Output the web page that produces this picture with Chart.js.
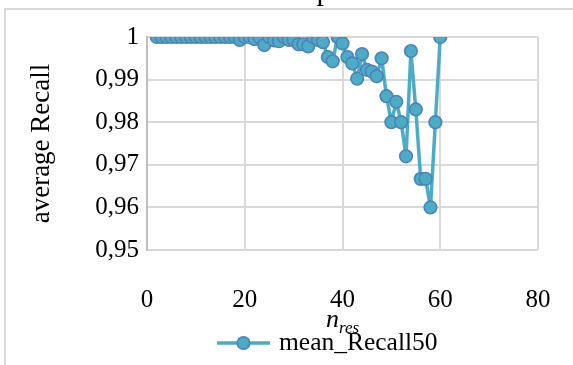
<!DOCTYPE html>
<html>
<head>
<meta charset="utf-8">
<script src="https://cdn.jsdelivr.net/npm/chart.js@4/dist/chart.umd.min.js"></script>
<style>
html,body{margin:0;padding:0;background:#fff;overflow:hidden;}
#wrap{position:relative;width:573px;height:365px;}
</style>
</head>
<body>
<div id="wrap"><canvas id="c" width="573" height="365"></canvas></div>
<script>
// ---- data ----
const nRes = [2,3,4,5,6,7,8,9,10,11,12,13,14,15,16,17,18,19,20,21,22,23,24,25,26,27,28,29,30,31,32,33,34,35,36,37,38,39,40,41,42,43,44,45,46,47,48,49,50,51,52,53,54,55,56,57,58,59,60];
const meanRecall50 = [1,1,1,1,1,1,1,1,1,1,1,1,1,1,1,1,1,0.9993,1,1,0.9995,1,0.9981,1,0.9992,0.999,1,0.9993,0.9993,0.9983,0.9983,0.9978,1,0.9993,0.9988,0.9953,0.9943,1,0.9985,0.9953,0.9938,0.9902,0.996,0.9923,0.9919,0.9908,0.995,0.9861,0.98,0.9848,0.98,0.972,0.9967,0.983,0.9667,0.9667,0.96,0.98,1];
const seriesName = 'mean_Recall50';
const xTicks = [0,20,40,60,80];
const yTicks = [0.95,0.96,0.97,0.98,0.99,1];
const yTickLabels = ['0,95','0,96','0,97','0,98','0,99','1'];
const yTitle = 'average Recall';
const xTitleMain = 'n';
const xTitleSub = 'res';
const titleText = 'p';

const FONT = '"Liberation Serif", "DejaVu Serif", serif';
const LINE = '#4BACC6';
const EDGE = '#4F81BD';

const extras = {
  id: 'extras',
  beforeDraw(chart){
    const ctx = chart.ctx;
    ctx.save();
    ctx.strokeStyle = '#d9d9d9';
    ctx.lineWidth = 2;
    ctx.beginPath();
    ctx.moveTo(5, 365); ctx.lineTo(5, 9); ctx.lineTo(573, 9);
    ctx.stroke();
    ctx.restore();
  },
  afterDraw(chart){
    const ctx = chart.ctx;
    const xs = chart.scales.x;
    ctx.save();
    ctx.fillStyle = '#000';
    // clipped title fragment
    ctx.font = '30px ' + FONT;
    ctx.textAlign = 'center';
    ctx.textBaseline = 'alphabetic';
    ctx.fillText(titleText, 324, 0);
    // x axis title n_res
    const cx = xs.getPixelForValue(40);
    ctx.font = 'italic 26px ' + FONT;
    const w1 = ctx.measureText(xTitleMain).width;
    ctx.font = 'italic 17px ' + FONT;
    const w2 = ctx.measureText(xTitleSub).width;
    const start = cx - (w1 + w2) / 2;
    ctx.textAlign = 'left';
    ctx.font = 'italic 26px ' + FONT;
    ctx.fillText(xTitleMain, start, 327);
    ctx.font = 'italic 17px ' + FONT;
    ctx.fillText(xTitleSub, start + w1, 333);
    // legend
    const ly = 343;
    ctx.strokeStyle = LINE;
    ctx.lineWidth = 3.5;
    ctx.beginPath(); ctx.moveTo(217, ly); ctx.lineTo(270, ly); ctx.stroke();
    ctx.beginPath(); ctx.arc(243.5, ly, 6.3, 0, Math.PI*2);
    ctx.fillStyle = LINE; ctx.fill();
    ctx.strokeStyle = EDGE; ctx.lineWidth = 1.6; ctx.stroke();
    ctx.fillStyle = '#000';
    ctx.font = '25.5px ' + FONT;
    ctx.textBaseline = 'middle';
    ctx.fillText(chart.data.datasets[0].label, 279, ly);
    ctx.restore();
  }
};

new Chart(document.getElementById('c'), {
  type: 'line',
  data: {
    datasets: [{
      label: seriesName,
      data: nRes.map((n,i)=>({x:n, y:meanRecall50[i]})),
      borderColor: LINE,
      borderWidth: 3.5,
      borderJoinStyle: 'round',
      backgroundColor: LINE,
      pointBackgroundColor: LINE,
      pointBorderColor: EDGE,
      pointBorderWidth: 1.6,
      pointRadius: 6.3,
      tension: 0
    }]
  },
  options: {
    responsive: false,
    animation: false,
    devicePixelRatio: 1,
    layout: { padding: { left: 0, right: 35, top: 37, bottom: 0 } },
    plugins: { legend: { display: false }, title: { display: false }, tooltip: { enabled: false } },
    scales: {
      x: {
        type: 'linear', min: 0, max: 80,
        afterBuildTicks(s){ s.ticks = xTicks.map(v=>({value:v})); },
        afterFit(s){ s.height = 115; s.paddingRight = 0; s.paddingLeft = 0; },
        grid: { color: '#d9d9d9', lineWidth: 2, drawTicks: false },
        border: { display: false },
        ticks: { color: '#000', font: { family: FONT, size: 25 }, padding: 35, maxRotation: 0 }
      },
      y: {
        min: 0.95, max: 1,
        afterBuildTicks(s){ s.ticks = yTicks.map(v=>({value:v})); },
        afterFit(s){ s.width = 147; s.paddingTop = 0; s.paddingBottom = 0; },
        grid: { color: '#d9d9d9', lineWidth: 2, drawTicks: false },
        border: { display: true, color: '#bfbfbf', width: 2 },
        ticks: {
          color: '#000', font: { family: FONT, size: 25 }, padding: 8,
          callback(v){ const i = yTicks.findIndex(t=>Math.abs(t-v)<1e-9); return i>=0 ? yTickLabels[i] : ''; }
        },
        title: { display: true, text: yTitle, color: '#000', font: { family: FONT, size: 27 }, padding: { top: 26, bottom: 0 } }
      }
    }
  },
  plugins: [extras]
});
</script>
</body>
</html>
